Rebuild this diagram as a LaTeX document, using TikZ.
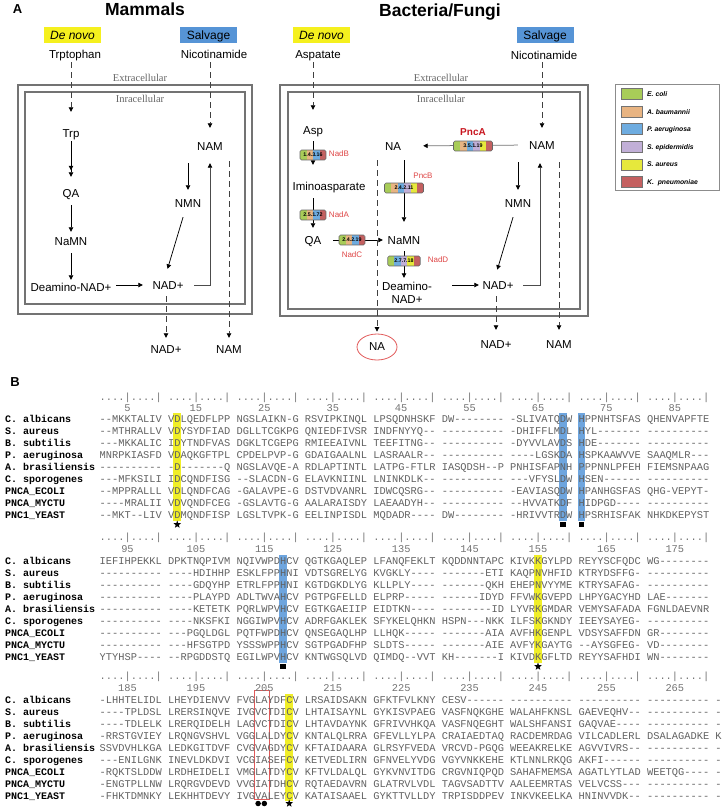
\documentclass[tikz,border=0pt]{standalone}
\usepackage{fontspec}
\setmainfont{Liberation Sans}
\newfontfamily\monof[Ligatures=TeXOff]{Liberation Mono}
\newfontfamily\serff{Liberation Serif}
\usetikzlibrary{arrows.meta,shapes.geometric,calc}

\definecolor{ecC}{RGB}{168,204,88}
\definecolor{abC}{RGB}{232,180,130}
\definecolor{paC}{RGB}{110,172,224}
\definecolor{seC}{RGB}{193,175,215}
\definecolor{saC}{RGB}{230,232,60}
\definecolor{kpC}{RGB}{196,96,96}
\definecolor{dnY}{RGB}{245,240,30}
\definecolor{svB}{RGB}{86,148,214}
\definecolor{hlY}{RGB}{240,238,40}
\definecolor{hlB}{RGB}{110,165,222}
\definecolor{enzR}{RGB}{222,70,70}
\definecolor{pncR}{RGB}{200,20,30}
\definecolor{ellR}{RGB}{225,90,90}

\newcommand\enzbox[6]{%
  \pgfmathsetmacro\ebw{#4*6.5}%
  \begin{scope}
    \clip[rounded corners=1.5pt] ({#2-\ebw/2},{#3-5}) rectangle ++(\ebw,10);
    \foreach \ecol [count=\ei from 0] in {#5} {%
      \fill[\ecol] ({#2-\ebw/2+\ei*6.5},{#3-5}) rectangle ++(6.5,10);
    }%
  \end{scope}
  \node[draw=black!60, line width=0.6pt, rounded corners=1.5pt, minimum width=\ebw pt, minimum height=10pt, inner sep=0pt, font=\bfseries\fontsize{5.3}{6}\selectfont] (#1) at (#2,#3) {#6};%
}
\newcommand\colx[1]{99.5+(#1+0.5)*6.22}
\newcommand\colhl[4]{\fill[#1] ({99.5+#2*6.22-0.8},#3) rectangle ({99.5+(#2+1)*6.22+0.8},#4);}
\newcommand\alrow[4]{%
  \node[nm] (nm#1) at (5,#2) {#3};
  \node[sq] (sq#1) at (99.5,#2) {#4};
}

\tikzset{
  lbl/.style={font=\fontsize{11.5}{13}\selectfont, inner sep=0pt, text height=8.2pt, text depth=0pt},
  ttl/.style={font=\bfseries\fontsize{17.5}{20}\selectfont, inner sep=0pt, text height=12.6pt, text depth=0pt},
  plab/.style={font=\bfseries\fontsize{13}{14}\selectfont, inner sep=0pt, text height=9.4pt, text depth=0pt},
  ser/.style={font=\serff\fontsize{10.5}{12}\selectfont, text=black!60, inner sep=0pt, text height=7pt, text depth=0pt},
  tagbox/.style={minimum width=57pt, minimum height=16pt, inner sep=0pt, font=\fontsize{12}{14}\selectfont, text height=8.6pt, text depth=0pt},
  arr/.style={-{Triangle[length=4.5pt,width=4.5pt,color=black]}, line width=0.75pt},
  arrd/.style={-{Triangle[length=4.5pt,width=4.5pt,sep=2pt]Triangle[length=4.5pt,width=4.5pt]}, line width=0.75pt},
  dsh/.style={dash pattern=on 6pt off 4pt, line width=0.75pt, black!75},
  cell/.style={draw=black!55, line width=1.1pt},
  enzlbl/.style={font=\fontsize{8}{9}\selectfont, text=enzR, inner sep=0pt},
  leg/.style={font=\bfseries\itshape\fontsize{6.8}{8}\selectfont, anchor=west, inner sep=0pt, text height=5pt, text depth=0pt},
  nm/.style={font=\monof\bfseries\fontsize{10}{12}\selectfont, anchor=west, inner sep=0pt, text height=6.6pt, text depth=0pt},
  sq/.style={font=\monof\fontsize{10.367}{12}\selectfont, text=black!62, anchor=west, inner sep=0pt, text height=6.8pt, text depth=0pt},
  num/.style={font=\monof\fontsize{10.367}{12}\selectfont, text=black!55, inner sep=0pt, text height=6.8pt, text depth=0pt},
  mstar/.style={star, star points=5, star point ratio=2.4, fill=black, inner sep=0pt, minimum size=8pt},
  msq/.style={rectangle, fill=black, inner sep=0pt, minimum size=5.5pt},
  mdot/.style={circle, fill=black, inner sep=0pt, minimum size=5.5pt},
}

\begin{document}
\begin{tikzpicture}[x=1pt,y=-1pt]
\useasboundingbox (0,0) rectangle (724,807);

% ---------------- Panel A titles
\node[plab] (labA) at (17.5,8.5) {A};
\node[ttl] (tMam) at (145,9) {Mammals};
\node[ttl] (tBac) at (440,10) {Bacteria/Fungi};

% ---------------- Mammals
\node[tagbox, fill=dnY] (dn1) at (72.5,35) {\itshape De novo};
\node[tagbox, fill=svB] (sv1) at (208.5,35) {Salvage};
\node[lbl] (trp0) at (75,54) {Trptophan};
\node[lbl] (nic1) at (214,54) {Nicotinamide};
\node[ser] (ext1) at (140,78) {Extracellular};
\draw[cell] (18,85) rectangle (252,314);
\draw[cell] (25,92) rectangle (245,304);
\node[ser] (int1) at (140,99) {Inracellular};
\node[lbl] (trp) at (71,133) {Trp};
\node[lbl] (qa1) at (71,193) {QA};
\node[lbl] (namn1) at (71,241) {NaMN};
\node[lbl] (dnad1) at (71,287) {Deamino-NAD+};
\node[lbl] (nad1) at (168,285) {NAD+};
\node[lbl] (nam1) at (210,146) {NAM};
\node[lbl] (nmn1) at (188,203) {NMN};
\node[lbl] (onad1) at (166,349) {NAD+};
\node[lbl] (onam1) at (229,349) {NAM};

\draw[dsh,arr,shorten <=3.9pt,shorten >=16.9pt] (trp0.south -| trp.north) -- (trp.north);
\draw[arrd,shorten <=3.9pt,shorten >=11.9pt] (trp.south) -- (qa1.north);
\draw[arr,shorten <=7.9pt,shorten >=4.9pt] (qa1.south) -- (namn1.north);
\draw[arr,shorten <=7.9pt,shorten >=2.9pt] (namn1.south) -- (dnad1.north);
\draw[arr,shorten <=4.6pt,shorten >=9.5pt] (dnad1.east |- nad1.west) -- (nad1.west);
\draw[arr,shorten <=10.3pt,shorten >=12.4pt] ([xshift=-2pt]nmn1.south) -- ([xshift=-4pt]nad1.north);
\draw[arr,shorten <=12.9pt,shorten >=8.9pt] (nam1.south -| nmn1.north) -- (nmn1.north);
\draw[arr,black!70] ([xshift=10.5pt]nad1.east) -| ([yshift=-12.9pt]nam1.south);
\draw[dsh,arr,shorten <=3.9pt,shorten >=13.9pt] (nic1.south -| nam1.north) -- (nam1.north);
\draw[dsh,arr,shorten <=6.9pt,shorten >=6.9pt] (nad1.south -| onad1.north) -- (onad1.north);
\draw[dsh,arr,shorten <=10.9pt,shorten >=6.9pt] (nam1.south -| onam1.north) -- (onam1.north);

% ---------------- Bacteria / Fungi
\node[tagbox, fill=dnY] (dn2) at (321.5,35) {\itshape De novo};
\node[tagbox, fill=svB] (sv2) at (545,35) {Salvage};
\node[lbl] (asp0) at (318,54) {Aspatate};
\node[lbl] (nic2) at (544,55) {Nicotinamide};
\node[ser] (ext2) at (441,78) {Extracellular};
\draw[cell] (280,85) rectangle (588,316);
\draw[cell] (288,92) rectangle (580,309);
\node[ser] (int2) at (441,99) {Inracellular};
\node[lbl] (asp) at (313,130) {Asp};
\node[lbl] (imino) at (329,186) {Iminoasparate};
\node[lbl] (qa2) at (313,240) {QA};
\node[lbl] (na) at (393,146) {NA};
\node[lbl] (namn2) at (404,240) {NaMN};
\node[font=\fontsize{11.5}{13}\selectfont, align=center, inner sep=0pt] (dnad2) at (407,292.5) {Deamino-\\NAD+};
\node[lbl] (nad2) at (498,285) {NAD+};
\node[lbl] (nam2) at (542,145) {NAM};
\node[lbl] (nmn2) at (518,203) {NMN};
\node[lbl] (onad2) at (496,344) {NAD+};
\node[lbl] (onam2) at (559,344) {NAM};
\node[ellipse, draw=ellR, line width=0.8pt, minimum width=40pt, minimum height=26pt, inner sep=0pt, font=\fontsize{11.5}{13}\selectfont] (na2) at (377,347) {NA};

\draw[dsh,arr,shorten <=3.9pt,shorten >=15.9pt] (asp0.south -| asp.north) -- (asp.north);
\draw[arr,shorten <=6.9pt,shorten >=16.9pt] (asp.south) -- (asp.south |- imino.north);
\draw[arr,shorten <=7.9pt,shorten >=7.9pt] (imino.south -| qa2.north) -- (qa2.north);
\draw[arr,shorten <=11.7pt,shorten >=4.7pt] (qa2.east) -- (namn2.west);
\draw[arr,shorten <=9.9pt,shorten >=13.9pt] (na.south -| namn2.north) -- (namn2.north);
\draw[arr,shorten <=6.9pt,shorten >=3.8pt] (namn2.south) -- (namn2.south |- dnad2.north);
\draw[arr,shorten <=20pt,shorten >=3.5pt] (dnad2.east |- nad2.west) -- (nad2.west);
\draw[arr,black!55,shorten <=11.2pt,shorten >=22pt] (nam2.west) -- (na.east);
\draw[dsh,arr,shorten <=9.9pt,shorten >=2pt] (na.south -| na2.north) -- (na2.north);
\draw[dsh,arr,shorten <=2.9pt,shorten >=12.9pt] (nic2.south -| nam2.north) -- (nam2.north);
\draw[arr,shorten <=12.9pt,shorten >=8.9pt] (nam2.south -| nmn2.north) -- (nmn2.north);
\draw[arr,shorten <=10.3pt,shorten >=11.5pt] ([xshift=-2pt]nmn2.south) -- ([xshift=-4pt]nad2.north);
\draw[arr,black!70] ([xshift=9.5pt]nad2.east) -| ([xshift=-2pt,yshift=-13.9pt]nam2.south);
\draw[dsh,arr,shorten <=6.9pt,shorten >=9.9pt] (nad2.south -| onad2.north) -- (onad2.north);
\draw[dsh,arr,shorten <=12.9pt,shorten >=9.9pt] (nam2.south -| onam2.north) -- (onam2.north);

% enzyme boxes
\enzbox{eNadB}{313}{155}{4}{ecC,abC,paC,kpC}{1.4.3.16}
\enzbox{eNadA}{313}{215}{4}{ecC,abC,paC,kpC}{2.5.1.72}
\enzbox{eNadC}{352}{240}{4}{ecC,abC,paC,kpC}{2.4.2.19}
\enzbox{ePncB}{404}{188}{6}{ecC,abC,paC,seC,saC,kpC}{2.4.2.11}
\enzbox{eNadD}{404}{261}{5}{ecC,paC,seC,saC,kpC}{2.7.7.18}
\enzbox{ePncA}{473}{146}{6}{ecC,abC,paC,seC,saC,kpC}{3.5.1.19}
\node[enzlbl] (lNadB) at (339,154) {NadB};
\node[enzlbl] (lNadA) at (339,215) {NadA};
\node[enzlbl] (lNadC) at (352,255) {NadC};
\node[enzlbl] (lPncB) at (423,176) {PncB};
\node[enzlbl] (lNadD) at (438,260) {NadD};
\node[font=\bfseries\fontsize{10}{12}\selectfont, text=pncR, inner sep=0pt] (lPncA) at (473,132) {PncA};

% legend
\draw[black!45, line width=0.8pt] (615,84) rectangle (719,190);
\foreach \lcol/\ltxt [count=\k from 0] in {ecC/E. coli, abC/A. baumannii, paC/P. aeruginosa, seC/S. epidermidis, saC/S. aureus, kpC/K.~ pneumoniae} {
  \draw[black!55, fill=\lcol, line width=0.6pt] (621,{94+17.6*\k-5.5}) rectangle (642,{94+17.6*\k+5.5});
  \node[leg] (lg\k) at (647,{94+17.6*\k}) {\ltxt};
}

% ---------------- Panel B
\node[plab] (labB) at (15,382) {B};

% highlights
\colhl{hlY}{12}{412.5}{521}
\colhl{hlB}{74}{412.5}{521}
\colhl{hlB}{77}{412.5}{521}
\colhl{hlB}{29}{554.5}{663}
\colhl{hlY}{70}{554.5}{663}
\colhl{hlY}{30}{693.5}{801}
\draw[ellR, line width=0.8pt] ({99.5+25*6.22-1},690) rectangle ({99.5+27*6.22+1.5},799.5);

% block 1
\node[sq,text=black!55] (ru1) at (99.5,397.5) {....|....| ....|....| ....|....| ....|....| ....|....| ....|....| ....|....| ....|....| ....|....|};
\foreach \k in {0,...,8} {
  \pgfmathtruncatemacro\pn{5+10*\k}
  \node[num] (pn\pn) at ({\colx{11*\k+4}},408) {\pn};
}
\alrow{a1}{419}{C. albicans}{--MKKTALIV VDLQEDFLPP NGSLAIKN-G RSVIPKINQL LPSQDNHSKF DW-------- -SLIVATQDW HPPNHTSFAS QHENVAPFTE}
\alrow{a2}{431}{S. aureus}{--MTHRALLV VDYSYDFIAD DGLLTCGKPG QNIEDFIVSR INDFNYYQ-- ---------- -DHIFFLMDL HYL------- ----------}
\alrow{a3}{443}{B. subtilis}{---MKKALIC IDYTNDFVAS DGKLTCGEPG RMIEEAIVNL TEEFITNG-- ---------- -DYVVLAVDS HDE------- ----------}
\alrow{a4}{455}{P. aeruginosa}{MNRPKIASFD VDAQKGFTPL CPDELPVP-G GDAIGAALNL LASRAALR-- ---------- ----LGSKDA HSPKAAWVVE SAAQMLR---}
\alrow{a5}{467}{A. brasiliensis}{---------- -D-------Q NGSLAVQE-A RDLAPTINTL LATPG-FTLR IASQDSH--P PNHISFAPNH PPPNNLPFEH FIEMSNPAAG}
\alrow{a6}{479}{C. sporogenes}{---MFKSILI IDCQNDFISG --SLACDN-G ELAVKNIINL LNINKDLK-- ---------- ---VFYSLDW HSEN------ ----------}
\alrow{a7}{491}{PNCA\_ECOLI}{--MPPRALLL VDLQNDFCAG -GALAVPE-G DSTVDVANRL IDWCQSRG-- ---------- -EAVIASQDW HPANHGSFAS QHG-VEPYT-}
\alrow{a8}{503}{PNCA\_MYCTU}{----MRALII VDVQNDFCEG -GSLAVTG-G AALARAISDY LAEAADYH-- ---------- --HVVATKDF HIDPGD---- ----------}
\alrow{a9}{515}{PNC1\_YEAST}{--MKT--LIV VDMQNDFISP LGSLTVPK-G EELINPISDL MQDADR---- DW-------- -HRIVVTRDW HPSRHISFAK NHKDKEPYST}
\node[mstar] (m1) at ({\colx{12}},524.5) {};
\node[msq] (m2) at ({\colx{74}},524.5) {};
\node[msq] (m3) at ({\colx{77}},524.5) {};

% block 2
\node[sq,text=black!55] (ru2) at (99.5,537.5) {....|....| ....|....| ....|....| ....|....| ....|....| ....|....| ....|....| ....|....| ....|....|};
\foreach \k in {0,...,8} {
  \pgfmathtruncatemacro\pn{95+10*\k}
  \node[num] (pn\pn) at ({\colx{11*\k+4}},549) {\pn};
}
\alrow{b1}{561}{C. albicans}{IEFIHPEKKL DPKTNQPIVM NQIVWPDHCV QGTKGAQLEP LFANQFEKLT KQDDNNTAPC KIVKKGYLPD REYYSCFQDC WG--------}
\alrow{b2}{573}{S. aureus}{---------- ----HDIHHP ESKLFPPHNI VDTSGRELYG KVGKLY---- -------ETI KAQPNVHFID KTRYDSFFG- ----------}
\alrow{b3}{585}{B. subtilis}{---------- ----GDQYHP ETRLFPPHNI KGTDGKDLYG KLLPLY---- -------QKH EHEPNVYYME KTRYSAFAG- ----------}
\alrow{b4}{597}{P. aeruginosa}{---------- ----PLAYPD ADLTWVAHCV PGTPGFELLD ELPRP----- ------IDYD FFVWKGVEPD LHPYGACYHD LAE-------}
\alrow{b5}{609}{A. brasiliensis}{---------- ----KETETK PQRLWPVHCV EGTKGAEIIP EIDTKN---- --------ID LYVRKGMDAR VEMYSAFADA FGNLDAEVNR}
\alrow{b6}{621}{C. sporogenes}{---------- ----NKSFKI NGGIWPVHCV ADRFGAKLEK SFYKELQHKN HSPN---NKK ILFSKGKNDY IEEYSAYEG- ----------}
\alrow{b7}{633}{PNCA\_ECOLI}{---------- ---PGQLDGL PQTFWPDHCV QNSEGAQLHP LLHQK----- -------AIA AVFHKGENPL VDSYSAFFDN GR--------}
\alrow{b8}{645}{PNCA\_MYCTU}{---------- ---HFSGTPD YSSSWPPHCV SGTPGADFHP SLDTS----- -------AIE AVFYKGAYTG --AYSGFEG- VD--------}
\alrow{b9}{657}{PNC1\_YEAST}{YTYHSP---- --RPGDDSTQ EGILWPVHCV KNTWGSQLVD QIMDQ--VVT KH-------I KIVDKGFLTD REYYSAFHDI WN--------}
\node[msq] (m4) at ({\colx{29}},666.5) {};
\node[mstar] (m5) at ({\colx{70}},666.5) {};

% block 3
\node[sq,text=black!55] (ru3) at (99.5,676.5) {....|....| ....|....| ....|....| ....|....| ....|....| ....|....| ....|....| ....|....| ....|....|};
\foreach \k in {0,...,8} {
  \pgfmathtruncatemacro\pn{185+10*\k}
  \node[num] (pn\pn) at ({\colx{11*\k+4}},688) {\pn};
}
\alrow{c1}{700}{C. albicans}{-LHHTELIDL LHEYDIENVV FVGLAYDFCV LRSAIDSAKN GFKTFVLKNY CESV------ ---------- ---------- ---------- -}
\alrow{c2}{712}{S. aureus}{----TPLDSL LRERSINQVE IVGVCTDICV LHTAISAYNL GYKISVPAEG VASFNQKGHE WALAHFKNSL GAEVEQHV-- ---------- -}
\alrow{c3}{724}{B. subtilis}{----TDLELK LRERQIDELH LAGVCTDICV LHTAVDAYNK GFRIVVHKQA VASFNQEGHT WALSHFANSI GAQVAE---- ---------- -}
\alrow{c4}{736}{P. aeruginosa}{-RRSTGVIEY LRQNGVSHVL VGGLALDYCV KNTALQLRRA GFEVLLYLPA CRAIAEDTAQ RACDEMRDAG VILCADLERL DSALAGADKE K}
\alrow{c5}{748}{A. brasiliensis}{SSVDVHLKGA LEDKGITDVF CVGVAGDYCV KFTAIDAARA GLRSYFVEDA VRCVD-PGQG WEEAKRELKE AGVVIVRS-- ---------- -}
\alrow{c6}{760}{C. sporogenes}{---ENILGNK INEVLDKDVI VCGIASEFCV KETVEDLIRN GFNVELYVDG VGYVNKKEHE KTLNNLRKQG AKFI------ ---------- -}
\alrow{c7}{772}{PNCA\_ECOLI}{-RQKTSLDDW LRDHEIDELI VMGLATDYCV KFTVLDALQL GYKVNVITDG CRGVNIQPQD SAHAFMEMSA AGATLYTLAD WEETQG---- -}
\alrow{c8}{784}{PNCA\_MYCTU}{-ENGTPLLNW LRQRGVDEVD VVGIATDHCV RQTAEDAVRN GLATRVLVDL TAGVSADTTV AALEEMRTAS VELVCSS--- ---------- -}
\alrow{c9}{796}{PNC1\_YEAST}{-FHKTDMNKY LEKHHTDEVY IVGVALEYCV KATAISAAEL GYKTTVLLDY TRPISDDPEV INKVKEELKA HNINVVDK-- ---------- -}
\node[mdot] (m6) at ({\colx{25}},803.5) {};
\node[mdot] (m7) at ({\colx{26}},803.5) {};
\node[mstar] (m8) at ({\colx{30}},803.5) {};
\end{tikzpicture}
\end{document}
